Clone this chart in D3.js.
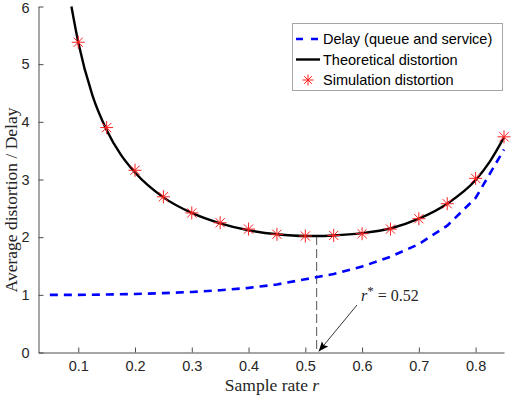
<!DOCTYPE html>
<html>
<head>
<meta charset="utf-8">
<script src="https://cdn.jsdelivr.net/npm/d3@7"></script>
<style>
	body { margin: 0; background: #fff; }
	svg { display: block; }
	.axis path, .axis line { stroke: #4d4d4d; }
	.axis text { font-family: "Liberation Sans", Arial, sans-serif; font-size: 14.5px; fill: #262626; }
	.label { font-family: "Liberation Serif", serif; font-size: 17.5px; fill: #262626; }
	.ann { font-family: "Liberation Serif", serif; font-size: 16px; fill: #262626; }
	.legend-text { font-family: "Liberation Sans", Arial, sans-serif; font-size: 14.5px; fill: #000; }
</style>
</head>
<body>
<div class="chart"></div>
<script>
(function() {

	// sample rates of the simulation runs
	const simRates = [0.1, 0.15, 0.2, 0.25, 0.3, 0.35, 0.4, 0.45, 0.5, 0.55, 0.6, 0.65, 0.7, 0.75, 0.8, 0.85];
	const simDistortion = [5.38, 3.9, 3.16, 2.7, 2.42, 2.25, 2.14, 2.05, 2.02, 2.03, 2.06, 2.14, 2.32, 2.58, 3.02, 3.74];

	// theoretical curve
	const theoRates = [0.088, 0.1, 0.125, 0.15, 0.175, 0.2, 0.25, 0.3, 0.35, 0.4, 0.45, 0.5, 0.52, 0.55, 0.6, 0.65, 0.7, 0.75, 0.8, 0.825, 0.85];
	const theoDistortion = [6.0, 5.38, 4.46, 3.86, 3.43, 3.12, 2.69, 2.42, 2.24, 2.12, 2.05, 2.02, 2.02, 2.03, 2.07, 2.15, 2.32, 2.58, 2.99, 3.31, 3.73];

	// delay curve
	const delayRates = [0.05, 0.1, 0.15, 0.2, 0.25, 0.3, 0.35, 0.4, 0.45, 0.5, 0.55, 0.6, 0.65, 0.7, 0.75, 0.8, 0.85];
	const delayValues = [1.0, 1.0, 1.005, 1.015, 1.03, 1.05, 1.08, 1.12, 1.18, 1.27, 1.36, 1.49, 1.66, 1.88, 2.2, 2.68, 3.52];

	const xTicks = [0.1, 0.2, 0.3, 0.4, 0.5, 0.6, 0.7, 0.8];
	const yTicks = [0, 1, 2, 3, 4, 5, 6];
	const rStar = 0.52, rStarValue = 2.02;

	const width = 515, height = 399;

	const x = d3.scaleLinear().domain([0.03, 0.85]).range([38.5, 504]);
	const y = d3.scaleLinear().domain([0, 6]).range([352.5, 6.5]);

	const svg = d3.select(".chart").append("svg")
		.attr("width", width)
		.attr("height", height);

	svg.append("defs").append("marker")
		.attr("id", "arrow")
		.attr("viewBox", "0 0 10 10")
		.attr("refX", 10).attr("refY", 5)
		.attr("markerWidth", 10).attr("markerHeight", 10)
		.attr("markerUnits", "userSpaceOnUse")
		.attr("orient", "auto")
		.append("path")
		.attr("d", "M0,1 L10,5 L0,9 L2,5 Z")
		.attr("fill", "#000");

	// axes
	svg.append("g")
		.attr("class", "x axis")
		.attr("transform", "translate(0," + y(0) + ")")
		.call(d3.axisBottom(x).tickValues(xTicks).tickFormat(d3.format(".1f")).tickSizeInner(-5).tickSizeOuter(0).tickPadding(8.5));

	svg.append("g")
		.attr("class", "y axis")
		.attr("transform", "translate(" + x(0.03) + ",0)")
		.call(d3.axisLeft(y).tickValues(yTicks).tickFormat(d3.format("d")).tickSizeInner(-5).tickSizeOuter(0).tickPadding(9));

	// keep the top label inside the picture
	svg.selectAll(".y.axis .tick text").filter(d => d === 6).attr("dy", "0.38em");

	// dashed guide at the optimum
	svg.append("line")
		.attr("x1", x(rStar)).attr("x2", x(rStar))
		.attr("y1", y(rStarValue)).attr("y2", y(0))
		.attr("stroke", "#555")
		.attr("stroke-width", 1)
		.attr("stroke-dasharray", "9,4");

	// delay
	const delayLine = d3.line()
		.x((d, i) => x(delayRates[i]))
		.y(d => y(d));

	svg.append("path")
		.datum(delayValues)
		.attr("d", delayLine)
		.attr("fill", "none")
		.attr("stroke", "#0000ff")
		.attr("stroke-width", 2.6)
		.attr("stroke-dasharray", "8,6");

	// theoretical
	const theoLine = d3.line()
		.x((d, i) => x(theoRates[i]))
		.y(d => y(d))
		.curve(d3.curveMonotoneX);

	svg.append("path")
		.datum(theoDistortion)
		.attr("d", theoLine)
		.attr("fill", "none")
		.attr("stroke", "#000")
		.attr("stroke-width", 2.4);

	// asterisk marker
	function star(s) {
		const d = s * 0.7071;
		return `M${-s},0L${s},0M0,${-s}L0,${s}M${-d},${-d}L${d},${d}M${-d},${d}L${d},${-d}`;
	}

	svg.selectAll(".sim")
		.data(simDistortion)
		.enter().append("path")
		.attr("class", "sim")
		.attr("transform", (d, i) => `translate(${x(simRates[i])},${y(d)})`)
		.attr("d", star(6.5))
		.attr("fill", "none")
		.attr("stroke", "#ff2020")
		.attr("stroke-width", 1);

	// annotation
	svg.append("line")
		.attr("x1", 357).attr("y1", 305)
		.attr("x2", x(rStar) + 2).attr("y2", y(0) - 1)
		.attr("stroke", "#000")
		.attr("stroke-width", 0.8)
		.attr("marker-end", "url(#arrow)");

	const ann = svg.append("text")
		.attr("class", "ann")
		.attr("x", 361).attr("y", 301);
	ann.append("tspan").style("font-style", "italic").text("r");
	ann.append("tspan").attr("dy", -6).style("font-size", "13px").text("*");
	ann.append("tspan").attr("dy", 6).text(" = 0.52");

	// axis labels
	const xl = svg.append("text")
		.attr("class", "label")
		.attr("x", 272).attr("y", 391)
		.attr("text-anchor", "middle");
	xl.append("tspan").text("Sample rate ");
	xl.append("tspan").style("font-style", "italic").text("r");

	svg.append("text")
		.attr("class", "label")
		.attr("transform", "translate(17,200) rotate(-90)")
		.attr("text-anchor", "middle")
		.text("Average distortion / Delay");

	// legend
	const legend = svg.append("g").attr("class", "legend");

	legend.append("rect")
		.attr("x", 292.5).attr("y", 23.5)
		.attr("width", 210).attr("height", 67)
		.attr("fill", "#fff")
		.attr("stroke", "#a6a6a6");

	const entries = [
		{name: "Delay (queue and service)", type: "dash"},
		{name: "Theoretical distortion", type: "line"},
		{name: "Simulation distortion", type: "star"}
	];

	const item = legend.selectAll(".item")
		.data(entries)
		.enter().append("g")
		.attr("class", "item")
		.attr("transform", (d, i) => "translate(0," + (39 + i * 20.5) + ")");

	item.filter(d => d.type !== "star").append("line")
		.attr("x1", 296).attr("x2", 320)
		.attr("stroke", d => d.type === "dash" ? "#0000ff" : "#000")
		.attr("stroke-width", d => d.type === "dash" ? 2.6 : 2.4)
		.attr("stroke-dasharray", d => d.type === "dash" ? "7,8" : null);

	item.filter(d => d.type === "star").append("path")
		.attr("transform", "translate(308,0)")
		.attr("d", star(5.5))
		.attr("fill", "none")
		.attr("stroke", "#ff2020")
		.attr("stroke-width", 1);

	item.append("text")
		.attr("class", "legend-text")
		.attr("x", 323)
		.attr("dy", "0.35em")
		.text(d => d.name);

})();
</script>
</body>
</html>
